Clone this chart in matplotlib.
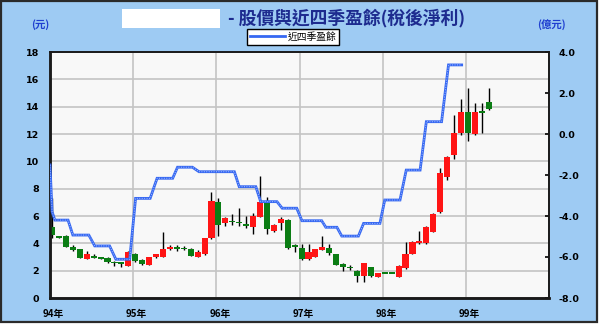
import matplotlib
matplotlib.use('Agg')
import matplotlib.pyplot as plt
from matplotlib.patches import Rectangle
from matplotlib.ticker import FixedLocator, FixedFormatter
from matplotlib.font_manager import FontProperties

# ---------------- data (monthly candles from 94/01, price in 元) ----------------
opens  = [5.22, 4.48, 4.54, 3.76, 3.56, 2.88, 3.07, 2.92, 2.90, 2.66, 2.56, 2.36,
          3.20, 2.78, 2.41, 2.98, 3.02, 3.56, 3.72, 3.63, 3.58, 3.02, 3.20, 4.37,
          7.05, 5.51, 5.65, 5.58, 5.40, 5.22, 5.95, 6.93, 4.93, 5.51, 5.71, 3.80,
          3.68, 2.83, 3.02, 3.51, 3.68, 3.22, 2.46, 2.29, 2.00, 1.63, 2.24, 1.56,
          1.85, 1.86, 1.56, 2.17, 3.22, 4.00, 4.00, 4.85, 6.31, 8.88, 10.46, 12.05,
          13.63, 12.00, 13.68, 14.37]
highs  = [7.29, 4.55, 4.62, 3.85, 3.60, 3.46, 3.20, 2.98, 3.02, 2.72, 2.60, 3.45,
          3.30, 2.85, 3.02, 3.25, 4.83, 3.88, 3.85, 3.78, 3.68, 3.50, 4.42, 7.73,
          7.30, 5.95, 6.15, 6.61, 6.00, 6.20, 8.93, 7.38, 5.40, 5.95, 5.80, 3.93,
          3.95, 3.93, 3.60, 4.56, 3.95, 3.25, 2.54, 2.41, 2.05, 2.54, 2.30, 1.85,
          1.90, 1.92, 2.40, 4.12, 4.15, 4.90, 5.25, 6.20, 9.49, 10.40, 13.40, 14.54,
          15.34, 14.24, 14.29, 15.34]
lows   = [4.37, 4.40, 3.72, 3.45, 2.92, 2.85, 2.93, 2.85, 2.56, 2.34, 2.30, 2.33,
          2.62, 2.45, 2.40, 2.95, 3.00, 3.50, 3.45, 3.48, 3.05, 3.00, 3.18, 4.35,
          4.56, 5.30, 5.34, 5.25, 5.10, 4.68, 5.90, 4.68, 4.85, 4.95, 3.55, 3.39,
          2.80, 2.80, 2.98, 3.48, 3.15, 2.38, 2.00, 2.05, 1.19, 1.19, 1.51, 1.52,
          1.80, 1.80, 1.52, 2.15, 3.20, 3.98, 3.98, 4.80, 6.25, 8.60, 10.20, 11.90,
          11.50, 11.95, 12.10, 13.75]
closes = [4.61, 4.42, 3.76, 3.51, 2.95, 3.22, 2.95, 2.90, 2.66, 2.56, 2.52, 3.39,
          2.71, 2.49, 2.98, 3.20, 3.60, 3.75, 3.62, 3.60, 3.07, 3.34, 4.37, 7.12,
          5.34, 5.83, 5.55, 5.46, 5.30, 6.02, 7.00, 5.03, 5.34, 5.76, 3.64, 3.78,
          2.83, 3.39, 3.58, 3.75, 3.27, 2.41, 2.24, 2.17, 1.63, 2.54, 1.61, 1.81,
          1.82, 1.84, 2.34, 3.22, 4.12, 4.19, 5.22, 6.15, 9.12, 10.34, 12.05, 13.63,
          12.05, 13.63, 13.51, 13.83]

# 近四季盈餘 (億元), month position since 94/01
eps_month = [0.0, 0.3, 0.7, 2.6, 3.3, 5.6, 6.45, 8.6, 9.5, 11.5, 12.35, 14.45,
             15.45, 17.7, 18.4, 20.55, 21.5, 26.6, 27.3, 29.7, 30.4, 32.75, 33.5,
             35.6, 36.35, 39.2, 39.8, 41.4, 42.1, 44.5, 45.25, 47.6, 48.3, 50.5,
             51.4, 53.4, 54.3, 56.5, 57.5, 59.4]
eps_value = [-1.51, -3.79, -4.20, -4.20, -4.93, -4.93, -5.46, -5.46, -6.11, -6.11,
             -3.14, -3.14, -2.16, -2.16, -1.62, -1.62, -1.84, -1.84, -2.57, -2.57,
             -3.30, -3.30, -3.62, -3.62, -4.23, -4.23, -4.55, -4.55, -4.98, -4.98,
             -4.36, -4.36, -3.22, -3.22, -1.76, -1.76, 0.60, 0.60, 3.37, 3.37]

year_labels = ['94年', '95年', '96年', '97年', '98年', '99年']
price_ticks = [0, 2, 4, 6, 8, 10, 12, 14, 16, 18]
eps_ticks = [-8, -6, -4, -2, 0, 2, 4]

title_text = '- 股價與近四季盈餘(稅後淨利)'
legend_label = '近四季盈餘'

# ---------------- figure ----------------
W, H = 600, 326
fig = plt.figure(figsize=(W / 100, H / 100), dpi=100, facecolor='white')

def box(x0, y0, x1, y1):
    return [x0 / W, 1 - y1 / H, (x1 - x0) / W, (y1 - y0) / H]

BLUE_BG = '#9ecbf3'
fig.patches.append(Rectangle((1 / W, 1 - 322 / H), 596 / W, 321 / H,
                             transform=fig.transFigure, facecolor=BLUE_BG,
                             edgecolor='#2a2a2a', linewidth=1.6, zorder=-10))
# redaction patch over company name
fig.patches.append(Rectangle((122 / W, 1 - 28 / H), 98 / W, 19 / H,
                             transform=fig.transFigure, facecolor='white',
                             edgecolor='none', zorder=-5))

CJK = ['Noto Sans CJK TC', 'DejaVu Sans']
fig.text(228 / W, 1 - 18.5 / H, title_text, ha='left', va='center',
         fontsize=12.8, fontweight='bold', color='#1d2b8f', family=CJK)
fig.text(40 / W, 1 - 25 / H, '(元)', ha='center', va='center', fontsize=7.5,
         fontweight='bold', color='#1f3fd0', family=CJK)
fig.text(551 / W, 1 - 25 / H, '(億元)', ha='center', va='center', fontsize=7.5,
         fontweight='bold', color='#1f3fd0', family=CJK)

ax = fig.add_axes(box(50, 52, 549, 298))
ax.set_facecolor('#f8f8f8')
ax.set_xlim(0, 72)
ax.set_ylim(0, 18)

RED = '#ff1515'
GREEN = '#0b7d14'
xs = [i + 0.3 for i in range(len(opens))]
bottoms, heights, colors = [], [], []
for o, c in zip(opens, closes):
    lo, hi = min(o, c), max(o, c)
    h = max(hi - lo, 0.12)
    bottoms.append(lo if hi - lo >= 0.12 else (o + c) / 2 - 0.06)
    heights.append(h)
    colors.append(RED if c > o else GREEN)
ax.vlines(xs, lows, highs, color='black', linewidth=1.0, zorder=2)
ax.bar(xs, heights, bottom=bottoms, width=0.88, color=colors, linewidth=0, zorder=3)

ax.set_yticks(price_ticks)
ax.set_yticklabels([str(t) for t in price_ticks])
ax.xaxis.set_major_locator(FixedLocator([0, 12, 24, 36, 48, 60, 72]))
ax.xaxis.set_minor_locator(FixedLocator([0.5, 12.5, 24.5, 36.5, 48.5, 60.5]))
ax.xaxis.set_minor_formatter(FixedFormatter(year_labels))
ax.tick_params(axis='x', which='major', length=0, labelbottom=False)
ax.tick_params(axis='x', which='minor', length=0, pad=8, labelsize=7)
ax.tick_params(axis='y', length=0, pad=8, labelsize=6.8)
for lbl in ax.get_yticklabels():
    lbl.set_fontweight('bold')
for lbl in ax.xaxis.get_minorticklabels():
    lbl.set_fontweight('bold')
    lbl.set_family(CJK)
ax.grid(True, which='major', color='#c4c4c4', linewidth=1.2, zorder=0)
ax.set_axisbelow(True)

ax2 = ax.twinx()
ax2.set_ylim(-8, 4)
ax2.set_yticks(eps_ticks)
ax2.set_yticklabels([f'{t:.1f}' for t in eps_ticks])
ax2.tick_params(axis='y', direction='in', length=3, width=1.2, pad=7, labelsize=6.8)
for lbl in ax2.get_yticklabels():
    lbl.set_fontweight('bold')
line, = ax2.plot(eps_month, eps_value, color='#3668f2', linewidth=2.0,
                 solid_joinstyle='miter', zorder=4, label=legend_label)
ax2.plot(eps_month, eps_value, color='#a9c0ff', linewidth=0.7,
         linestyle=(0, (1, 1.5)), zorder=5)

for a in (ax, ax2):
    for s in a.spines.values():
        s.set_color('#1a1a1a')
        s.set_linewidth(1.2)
    a.spines['left'].set_linewidth(1.8)
    a.spines['bottom'].set_linewidth(1.8)

leg = ax2.legend(handles=[line], loc='center',
                 bbox_to_anchor=(293 / W, 1 - 36.8 / H), bbox_transform=fig.transFigure,
                 prop=FontProperties(family=CJK, size=7), frameon=True, fancybox=False,
                 framealpha=1, edgecolor='black', borderpad=0.3, handlelength=3.6,
                 handletextpad=0.3, borderaxespad=0)
leg.get_frame().set_linewidth(1.0)

fig.savefig('out.png', dpi=100, facecolor=fig.get_facecolor())
